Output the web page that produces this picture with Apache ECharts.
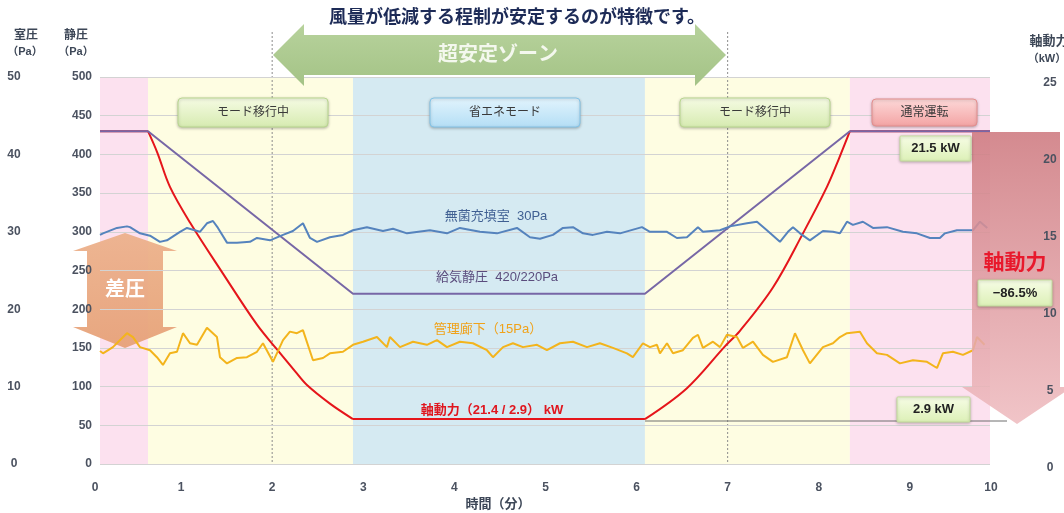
<!DOCTYPE html>
<html><head><meta charset="utf-8">
<script src="https://cdn.jsdelivr.net/npm/echarts@6/dist/echarts.min.js"></script>
<style>html,body{margin:0;padding:0;background:#fff}#c{width:1064px;height:513px}</style>
</head><body><div id="c"></div>
<script>
// ---- data ----
const xTickLabels = [0,1,2,3,4,5,6,7,8,9,10];
const bandStart = [0.11, 0.637, 2.887, 6.092, 8.342];
const bandEnd   = [0.637, 2.887, 6.092, 8.342, 9.88];
const bandColor = ['#fce1ef', '#fefde2', '#d5eaf2', '#fefde2', '#fce1ef'];
const guideX = [2, 7];

const supplyT  = [0.11, 0.637, 2.887, 6.092, 8.342, 9.88];
const supplyPa = [430, 430, 220, 220, 430, 430];

const powerT  = [0.11, 0.637, 0.74, 0.878, 1.098, 1.46, 1.833, 2.053, 2.25, 2.382, 2.634, 2.887, 6.092, 6.553, 6.97, 7.135, 7.497, 7.827, 8.09, 8.22, 8.342, 9.88];
const powerKw = [21.5, 21.5, 20.1, 17.9, 15.6, 12.3, 9.0, 7.4, 6.0, 5.1, 3.9, 2.9, 2.9, 4.9, 7.6, 8.6, 11.4, 14.9, 17.9, 19.7, 21.5, 21.5];
// phase breakpoints (indices into powerT): flat / falling / flat / rising / flat
const powerPhases = [[0, 1, false], [1, 11, true], [11, 12, false], [12, 20, true], [20, 21, false]];

const cleanT  = [0.11,0.143,0.296,0.406,0.439,0.549,0.659,0.768,0.845,0.988,1.065,1.207,1.284,1.35,1.405,1.504,1.614,1.756,1.833,1.976,2.119,2.228,2.338,2.415,2.492,2.634,2.777,2.887,3.04,3.216,3.326,3.48,3.732,3.919,4.061,4.281,4.468,4.687,4.83,4.94,5.082,5.192,5.302,5.412,5.521,5.675,5.818,6.059,6.147,6.334,6.443,6.553,6.674,6.729,6.916,7.025,7.212,7.322,7.431,7.574,7.662,7.717,7.794,7.903,8.046,8.156,8.233,8.31,8.375,8.485,8.595,8.749,8.924,9.078,9.221,9.33,9.385,9.517,9.693,9.77,9.85];
const cleanPa = [29.6,29.8,30.5,30.7,30.6,29.8,29.5,28.7,28.9,30.0,30.5,30.0,31.1,31.4,30.5,28.6,28.6,28.7,29.2,28.9,29.6,30.1,31.1,29.2,28.7,29.3,29.6,30.2,30.6,30.1,30.4,29.8,30.2,29.8,30.5,30.0,29.8,30.5,29.3,29.1,29.6,30.5,30.6,29.8,29.6,30.0,29.8,30.6,30.0,30.0,29.2,29.3,30.6,30.0,30.2,30.7,31.1,31.3,30.2,28.7,30.0,30.6,29.8,28.9,30.1,30.0,29.8,31.3,30.9,31.3,30.5,30.6,30.0,29.8,29.2,29.2,29.8,30.2,30.2,31.3,30.5];

const corridorT  = [0.11,0.143,0.252,0.406,0.472,0.549,0.659,0.735,0.801,0.878,0.955,1.021,1.098,1.175,1.284,1.394,1.427,1.504,1.614,1.723,1.833,1.899,2.009,2.119,2.195,2.272,2.338,2.448,2.558,2.634,2.777,2.887,2.997,3.15,3.26,3.293,3.403,3.546,3.699,3.809,3.919,4.061,4.204,4.358,4.424,4.534,4.643,4.753,4.907,5.016,5.159,5.302,5.456,5.598,5.741,5.895,5.96,6.07,6.147,6.224,6.257,6.334,6.4,6.509,6.619,6.674,6.729,6.839,6.916,6.992,7.102,7.168,7.278,7.387,7.497,7.651,7.739,7.827,7.903,8.046,8.156,8.233,8.31,8.452,8.529,8.639,8.749,8.891,9.034,9.188,9.298,9.363,9.473,9.583,9.693,9.737,9.82];
const corridorPa = [14.6,14.3,15.1,16.9,16.4,15.1,14.7,13.8,12.8,14.3,14.5,16.9,15.6,15.4,17.6,16.4,13.8,13.0,13.7,13.8,14.5,15.6,13.2,16.0,17.1,16.9,17.3,13.4,13.7,14.3,14.5,15.4,15.8,16.4,15.1,16.4,15.1,15.8,15.4,16.0,15.1,15.8,15.6,14.7,13.8,15.1,15.6,15.1,15.4,14.7,15.6,15.8,15.1,15.6,15.0,14.3,13.8,15.6,15.1,15.4,14.3,15.6,14.3,14.7,16.3,16.7,15.0,15.8,15.1,16.7,16.4,15.0,15.8,14.1,13.2,13.8,16.9,14.7,13.0,15.1,15.6,16.4,16.9,17.1,15.6,14.3,14.1,13.0,13.4,13.2,12.4,14.3,14.5,14.1,14.7,16.4,15.4];

// ---- chart ----
const FONT = '"Liberation Sans","Noto Sans CJK JP",sans-serif';
const chart = echarts.init(document.getElementById('c'), null, {renderer: 'canvas'});
const zip = (a, b) => a.map((v, i) => [v, b[i]]);
const grad = (c1, c2) => new echarts.graphic.LinearGradient(0, 0, 0, 1, [{offset: 0, color: c1}, {offset: 1, color: c2}]);
const labelColor = '#4b5260';

function box(x, y, w, h, text, c1, c2, stroke, opt) {
  opt = opt || {};
  return [
    {type: 'rect', z: opt.z || 6, shape: {x, y, width: w, height: h, r: opt.r == null ? 4 : opt.r},
     style: {fill: grad(c1, c2), stroke, lineWidth: 1, shadowBlur: 3, shadowOffsetY: 1, shadowColor: 'rgba(0,0,0,0.25)'}},
    {type: 'text', z: (opt.z || 6) + 1, style: {text, x: x + w / 2, y: y + h / 2, align: 'center', verticalAlign: 'middle',
      fill: opt.color || '#3a3a3a', fontSize: opt.size || 12, fontWeight: opt.bold ? 'bold' : 'normal', fontFamily: FONT}}
  ];
}
function txt(text, x, y, fill, size, bold, z) {
  return {type: 'text', z: z || 7, style: {text, x, y, align: 'center', verticalAlign: 'middle', fill,
    fontSize: size, fontWeight: bold ? 'bold' : 'normal', fontFamily: FONT}};
}

const graphics = [].concat(
  [{type: 'polygon', z: 2, shape: {points: [[273,55],[304,24],[304,35],[695,35],[695,24],[726,55],[695,86],[695,75],[304,75],[304,86]]},
    style: {fill: grad('#b7d29c', '#a4c386')}}],
  [txt('風量が低減する程制が安定するのが特徴です。', 517, 18, '#1d2b57', 18, true, 8)],
  [txt('超安定ゾーン', 498, 55, '#f4f8ee', 20, true, 8)],
  box(178, 98, 150, 29, 'モード移行中', '#f6fbe4', '#d6ebb0', '#b9d78f'),
  box(430, 98, 150, 29, '省エネモード', '#e2f4fd', '#b4def5', '#84c3e6'),
  box(680, 98, 150, 29, 'モード移行中', '#f6fbe4', '#d6ebb0', '#b9d78f'),
  box(872, 99, 105, 27, '通常運転', '#fdd9d9', '#f3a3a3', '#e48e8e'),
  [{type: 'polygon', z: 1.3, shape: {points: [[125,233],[177,251],[163,251],[163,327],[177,327],[125,348],[73,327],[87,327],[87,251],[73,251]]},
    style: {fill: grad('rgba(236,176,138,0.93)', 'rgba(230,160,118,0.93)')}}],
  [txt('差圧', 125, 290, '#ffffff', 20, true, 3)],
  [{type: 'line', z: 4, shape: {x1: 645, y1: 421, x2: 1007, y2: 421}, style: {stroke: '#6e6e6e', lineWidth: 1}}],
  [{type: 'polygon', z: 5, shape: {points: [[972,132],[1060,132],[1060,387],[1072,387],[1017,424],[962,387],[972,387]]},
    style: {fill: grad('rgba(206,122,128,0.88)', 'rgba(238,186,190,0.85)')}}],
  [txt('軸動力', 1015, 263, '#e8192c', 21, true, 8)],
  box(900, 136, 71, 25, '21.5 kW', '#f7fde6', '#dcf0b6', '#c3dd9c', {bold: true, size: 13, color: '#222', r: 1}),
  box(897, 397, 73, 25, '2.9 kW', '#f7fde6', '#dcf0b6', '#c3dd9c', {bold: true, size: 13, color: '#222', r: 1}),
  box(978, 280, 74, 26, '−86.5%', '#f7fde6', '#dcf0b6', '#c3dd9c', {bold: true, size: 13, color: '#222', r: 1, z: 8}),
  [txt('無菌充填室  30Pa', 496, 216, '#3f5f92', 13, false, 6),
   txt('給気静圧  420/220Pa', 497, 277, '#5b4d7d', 13, false, 6),
   txt('管理廊下（15Pa）', 488, 329, '#f0a21a', 13, false, 6),
   txt('軸動力（21.4 / 2.9） kW', 492, 410, '#e0161e', 13, true, 6)],
  [txt('室圧', 26, 36, '#3d4757', 12, true), txt('（Pa）', 25, 52, '#3d4757', 11, true),
   txt('静圧', 76, 36, '#3d4757', 12, true), txt('（Pa）', 76, 52, '#3d4757', 11, true),
   txt('軸動力', 1049, 41, '#3d4757', 13, true), txt('（kW）', 1047, 59, '#3d4757', 11, true),
   txt('時間（分）', 498, 504, '#3d4757', 13, true)]
);

const axisLbl = {color: labelColor, fontSize: 12, fontWeight: 'bold', fontFamily: FONT};

const powerSeries = powerPhases.map(([a, b, curved]) => ({
  type: 'line', name: '軸動力', xAxisIndex: 0, yAxisIndex: 2, z: 3, symbol: 'none',
  smooth: curved ? 0.35 : false,
  data: zip(powerT.slice(a, b + 1), powerKw.slice(a, b + 1)),
  lineStyle: {color: '#e5151b', width: 2}
}));

chart.setOption({
  animation: false,
  backgroundColor: '#ffffff',
  textStyle: {fontFamily: FONT},
  grid: [
    {left: 100, right: 74, top: 77, bottom: 49},
    {left: 100, right: 74, top: 83, bottom: 45},
    {left: 90, right: 63, top: 77, bottom: 49}
  ],
  xAxis: [
    {type: 'value', gridIndex: 0, min: 0.11, max: 9.88, axisLine: {show: false}, axisTick: {show: false}, axisLabel: {show: false}, splitLine: {show: false}},
    {type: 'value', gridIndex: 1, min: 0, max: 1, show: false},
    {type: 'value', gridIndex: 2, min: 0, max: 10, interval: 1, axisLine: {show: false}, axisTick: {show: false}, splitLine: {show: false},
      axisLabel: Object.assign({}, axisLbl, {margin: 18,
        formatter: v => v === 0 ? '{a|0}' : (v === 10 ? '{b|10}' : String(v)),
        rich: {a: Object.assign({}, axisLbl, {padding: [0, 0, 0, 10]}), b: Object.assign({}, axisLbl, {padding: [0, 20, 0, 0]})}})}
  ],
  yAxis: [
    {type: 'value', gridIndex: 0, min: 0, max: 500, interval: 50, z: 1.5, axisLine: {show: false}, axisTick: {show: false},
      axisLabel: Object.assign({}, axisLbl, {margin: 8}), splitLine: {lineStyle: {color: '#d3d3d3', width: 1}}},
    {type: 'value', gridIndex: 0, min: 0, max: 50, interval: 10, position: 'left', offset: 78, axisLine: {show: false}, axisTick: {show: false},
      axisLabel: Object.assign({}, axisLbl, {margin: 8, align: 'center'}), splitLine: {show: false}},
    {type: 'value', gridIndex: 0, min: 0, max: 25, show: false},
    {type: 'value', gridIndex: 1, min: 0, max: 25, interval: 5, position: 'right', z: 9, axisLine: {show: false}, axisTick: {show: false},
      axisLabel: Object.assign({}, axisLbl, {margin: 60, align: 'center'}), splitLine: {show: false}},
    {type: 'value', gridIndex: 2, min: 0, max: 1, show: false}
  ],
  graphic: {elements: graphics},
  series: [
    {type: 'custom', xAxisIndex: 0, yAxisIndex: 0, z: 1, silent: true, encode: {x: [0, 1]},
      data: bandStart.map((s, i) => [s, bandEnd[i], i]),
      renderItem: (params, api) => {
        const p1 = api.coord([api.value(0), 500]);
        const p2 = api.coord([api.value(1), 0]);
        return {type: 'rect', shape: {x: p1[0], y: p1[1], width: p2[0] - p1[0], height: p2[1] - p1[1]}, style: {fill: bandColor[api.value(2)]}};
      }},
    {type: 'custom', xAxisIndex: 0, yAxisIndex: 0, z: 1.2, silent: true, encode: {x: 0},
      data: guideX.map(v => [v]),
      renderItem: (params, api) => {
        const top = api.coord([api.value(0), 500]);
        const bot = api.coord([api.value(0), 0]);
        return {type: 'line', shape: {x1: top[0], y1: top[1] - 45, x2: bot[0], y2: bot[1]}, style: {stroke: '#8c8c8c', lineWidth: 1, lineDash: [2, 2]}};
      }}
  ].concat(powerSeries, [
    {type: 'line', name: '給気静圧', xAxisIndex: 0, yAxisIndex: 0, z: 3, data: zip(supplyT, supplyPa), symbol: 'none',
      lineStyle: {color: '#7767a6', width: 2}},
    {type: 'line', name: '無菌充填室', xAxisIndex: 0, yAxisIndex: 1, z: 3, data: zip(cleanT, cleanPa), symbol: 'none',
      lineStyle: {color: '#5583bd', width: 2}},
    {type: 'line', name: '管理廊下', xAxisIndex: 0, yAxisIndex: 1, z: 3, data: zip(corridorT, corridorPa), symbol: 'none',
      lineStyle: {color: '#f3b41c', width: 2}}
  ])
});
</script>
</body></html>
